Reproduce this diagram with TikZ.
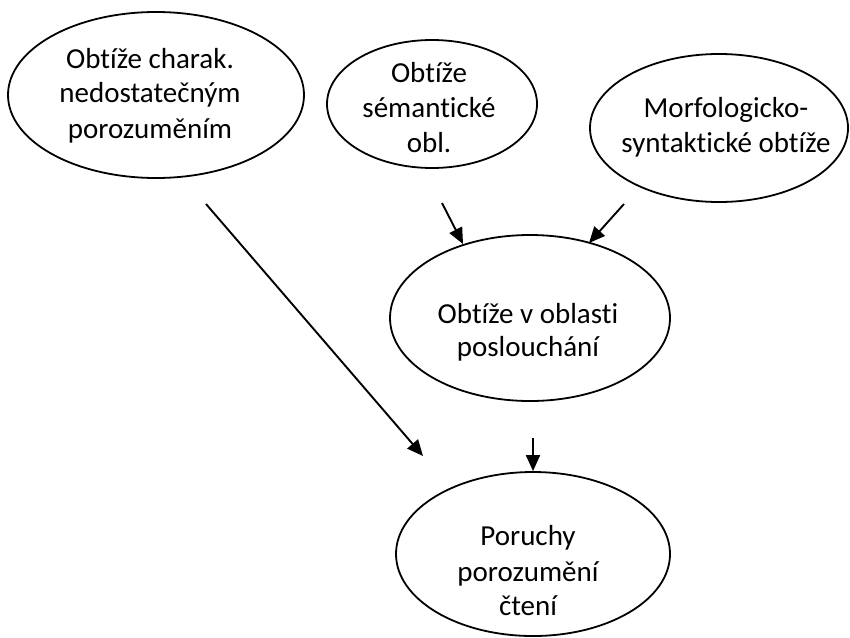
\documentclass[tikz,border=0pt]{standalone}
\usepackage{fontspec}
\setmainfont{Carlito}[Ligatures=NoCommon]
\usetikzlibrary{arrows.meta,shapes.geometric}
\begin{document}
\begin{tikzpicture}[x=1pt,y=-1pt,
  ell/.style={draw=black, line width=1.8pt, ellipse, inner sep=0pt},
  lbl/.style={anchor=base, inner sep=0pt, font=\fontsize{29}{35}\selectfont},
  conn/.style={line width=1.9pt, -{Triangle[length=16pt,width=14pt]}}]
\useasboundingbox (0,0) rectangle (850,637);

% ellipses
\node[ell, minimum width=296pt, minimum height=166pt] (e1) at (156,95) {};
\node[ell, minimum width=210pt, minimum height=128pt] (e2) at (432,104) {};
\node[ell, minimum width=258pt, minimum height=148pt] (e3) at (719,128) {};
\node[ell, minimum width=280pt, minimum height=166pt] (e4) at (530,318) {};
\node[ell, minimum width=274pt, minimum height=164pt] (e5) at (533,554) {};

% labels
\node[lbl] (t1a) at (150,68) {Obtíže charak.};
\node[lbl] (t1b) at (150,102) {nedostatečným};
\begin{scope}
  \clip (0,0) rectangle (320,142);
  \node[lbl] (t1c) at (150,138) {porozuměním};
\end{scope}

\node[lbl] (t2a) at (429,82) {Obtíže};
\node[lbl] (t2b) at (429,117) {sémantické};
\node[lbl] (t2c) at (429,152) {obl.};

\node[lbl] (t3a) at (726,117) {Morfologicko-};
\node[lbl] (t3b) at (726,152) {syntaktické obtíže};

\node[lbl] (t4a) at (528,323) {Obtíže v oblasti};
\node[lbl] (t4b) at (528,356) {poslouchání};

\node[lbl] (t5a) at (528,545) {Poruchy};
\node[lbl] (t5b) at (528,581) {porozumění};
\node[lbl] (t5c) at (528,615) {čtení};

% connector end points
\coordinate (a1s) at (206,204);
\coordinate (a1e) at (423,456);
\coordinate (a2s) at (442,203);
\coordinate (a2e) at (463,244);
\coordinate (a3s) at (624,204);
\coordinate (a3e) at (589,243);
\coordinate (a4s) at (533,438);

% connectors
\draw[conn] (a1s) -- (a1e);
\draw[conn] (a2s) -- (a2e);
\draw[conn] (a3s) -- (a3e);
\draw[conn] (a4s) -- (a4s |- e5.north);
\end{tikzpicture}
\end{document}
